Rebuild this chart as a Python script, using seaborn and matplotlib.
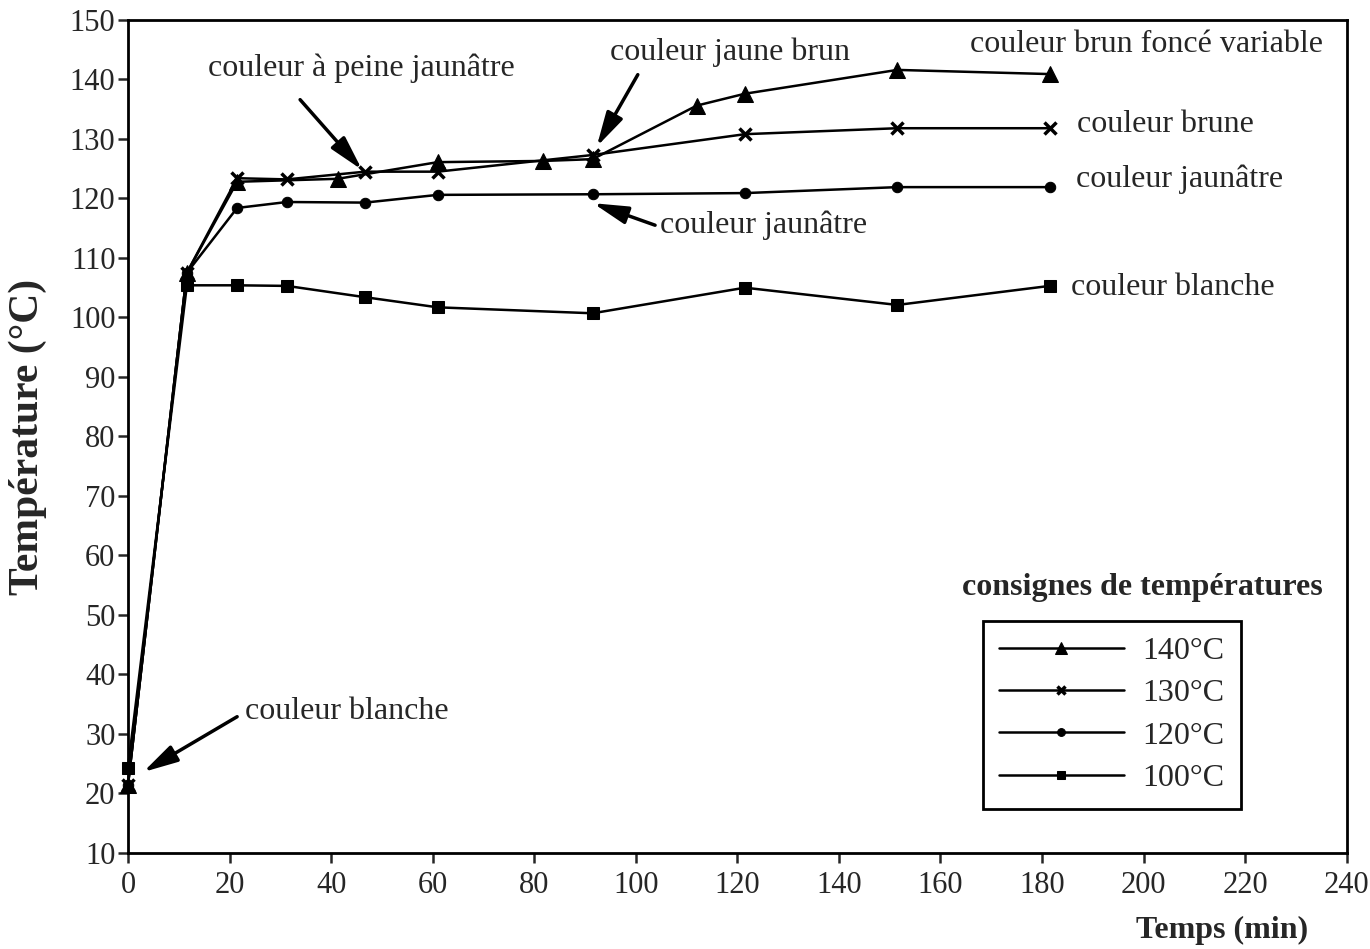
import pandas as pd
import matplotlib.pyplot as plt
import seaborn as sns

# values
t_140 = [0, 11.6, 21.5, 41.3, 61, 81.7, 91.5, 112, 121.5, 151.5, 181.5]
T_140 = [21.4, 107.5, 122.8, 123.3, 126.1, 126.3, 126.6, 135.6, 137.6, 141.6, 140.9]

t_130 = [0, 11.6, 21.5, 31.3, 46.7, 61, 91.5, 121.5, 151.5, 181.5]
T_130 = [21.4, 107.5, 123.4, 123.2, 124.5, 124.5, 127.3, 130.8, 131.8, 131.8]

t_120 = [0, 11.6, 21.5, 31.3, 46.7, 61, 91.5, 121.5, 151.5, 181.5]
T_120 = [21.4, 107.5, 118.4, 119.4, 119.3, 120.6, 120.7, 120.9, 121.9, 121.9]

t_100 = [0, 11.6, 21.5, 31.3, 46.7, 61, 91.5, 121.5, 151.5, 181.5]
T_100 = [24.3, 105.4, 105.4, 105.3, 103.4, 101.7, 100.7, 105.0, 102.1, 105.3]

series_labels = ['140°C', '130°C', '120°C', '100°C']

sns.set_style('ticks')
plt.rcParams['font.family'] = ['Liberation Serif', 'DejaVu Serif']

fig = plt.figure(figsize=(13.7, 9.49), dpi=100)
ax = fig.add_axes([0.0934, 0.1012, 0.8896, 0.8778])

common = dict(color='black', linewidth=1.8, markeredgecolor='black', clip_on=False, ax=ax)
sns.lineplot(x=t_140, y=T_140, marker='^', markersize=11, label=series_labels[0], **common)
sns.lineplot(x=t_130, y=T_130, marker='x', markersize=8, markeredgewidth=2.5,
             label=series_labels[1], **common)
sns.lineplot(x=t_120, y=T_120, marker='o', markersize=7.5, label=series_labels[2], **common)
sns.lineplot(x=t_100, y=T_100, marker='s', markersize=8, label=series_labels[3], **common)

ax.set_xlim(0, 240)
ax.set_ylim(10, 150)
ax.set_xticks(range(0, 241, 20))
ax.set_yticks(range(10, 151, 10))
ax.tick_params(axis='both', direction='out', length=7, width=1.8, labelsize=22)
ax.tick_params(axis='y', pad=2)
ax.tick_params(axis='x', pad=6)
for s in ax.spines.values():
    s.set_linewidth(2)
    s.set_color('black')
ax.set_xlabel('')
ax.set_ylabel('')

fig.text(0.02, 1 - 437 / 949, 'Température (°C)', rotation=90, ha='center', va='center',
         fontsize=30, fontweight='bold')
fig.text(1308 / 1370, 1 - 930 / 949, 'Temps (min)', ha='right', va='center',
         fontsize=23, fontweight='bold')

# arrows with notes
arrow = dict(arrowstyle='-|>,head_length=0.7,head_width=0.18', color='black', lw=2.5,
             mutation_scale=30, shrinkA=0, shrinkB=0)
fs = 23
ax.text(45.9, 141.9, 'couleur à peine jaunâtre', ha='center', va='center', fontsize=fs)
ax.annotate('', xy=(46.1, 124.8), xytext=(33.9, 136.6), arrowprops=arrow)

ax.text(118.5, 144.6, 'couleur jaune brun', ha='center', va='center', fontsize=fs)
ax.annotate('', xy=(92.3, 128.7), xytext=(100.4, 140.8), arrowprops=arrow)

ax.text(104.7, 115.5, 'couleur jaunâtre', ha='left', va='center', fontsize=fs)
ax.annotate('', xy=(91.6, 119.2), xytext=(103.8, 115.5), arrowprops=arrow)

ax.text(23, 33.7, 'couleur blanche', ha='left', va='center', fontsize=fs)
ax.annotate('', xy=(3, 23.6), xytext=(21.5, 32.9), arrowprops=arrow)

ax.text(165.8, 145.8, 'couleur brun foncé variable', ha='left', va='center', fontsize=fs)
ax.text(186.8, 132.5, 'couleur brune', ha='left', va='center', fontsize=fs)
ax.text(186.6, 123.3, 'couleur jaunâtre', ha='left', va='center', fontsize=fs)
ax.text(185.7, 105.1, 'couleur blanche', ha='left', va='center', fontsize=fs)

# legend, title sits above the box
fig.text(1142 / 1370, 1 - 588 / 949, 'consignes de températures', ha='center',
         va='center', fontsize=fs, fontweight='bold')
leg = ax.legend(loc='upper left', bbox_to_anchor=(983 / 1370, 1 - 621 / 949),
                bbox_transform=fig.transFigure, fontsize=fs, frameon=True,
                fancybox=False, edgecolor='black', framealpha=1,
                handlelength=3.9, handletextpad=0.6, labelspacing=0.4,
                borderpad=0.5, borderaxespad=0, markerscale=0.75)
leg.get_frame().set_linewidth(2)

fig.savefig('out.png', dpi=100)
